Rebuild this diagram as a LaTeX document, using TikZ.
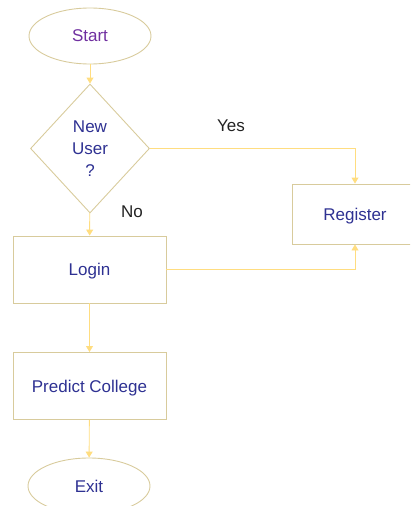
\documentclass[tikz,border=0pt]{standalone}
\usepackage{fontspec}
\setmainfont{Liberation Sans}
\usetikzlibrary{shapes.geometric,arrows.meta}
\definecolor{edgetan}{HTML}{D8CB9C}
\definecolor{flowline}{HTML}{FFDD80}
\definecolor{navytext}{HTML}{2E3192}
\definecolor{purpletext}{HTML}{7030A0}
\definecolor{labelgrey}{HTML}{222222}
\tikzset{
  base/.style={draw=edgetan, line width=0.9pt, font=\fontsize{17}{20}\selectfont, text=navytext, align=center, inner sep=0pt},
  terminal/.style={base, ellipse, minimum width=122pt, minimum height=56pt},
  decision/.style={base, diamond, minimum width=119pt, minimum height=129pt},
  process/.style={base, rectangle, minimum width=153pt, minimum height=67pt, text height=12pt, text depth=0pt},
  flow/.style={draw=flowline, line width=0.9pt, -{Triangle[length=6pt,width=7pt,fill=flowline]}},
  branch/.style={font=\fontsize{17}{20}\selectfont, text=labelgrey}
}
\begin{document}
\begin{tikzpicture}[x=1pt,y=-1pt]
  \useasboundingbox (0,0) rectangle (410,506);
  \begin{scope}
    \clip (0,0) rectangle (410,506);
    \node[terminal, text=purpletext] (start) at (90,36) {Start};
    \node[decision] (user) at (90,148.5) {New\\[2pt]User\\[2pt]?};
    \node[process, minimum width=126pt, minimum height=60pt] (register) at (355,214) {Register};
    \node[process] (login) at (89.5,269.5) {Login};
    \node[process] (predict) at (89.5,386) {Predict College};
    \node[terminal] (exit) at (89,486) {Exit};

    \draw[flow] (start) -- (user);
    \draw[flow] (user.east) -| (register.north);
    \draw[flow] (user) -- (login);
    \draw[flow] (login.east) -| (register.south);
    \draw[flow] (login) -- (predict);
    \draw[flow] (predict) -- (exit);

    \node[branch] (yes) at (231,126) {Yes};
    \node[branch] (no) at (132,212) {No};
  \end{scope}
\end{tikzpicture}
\end{document}
